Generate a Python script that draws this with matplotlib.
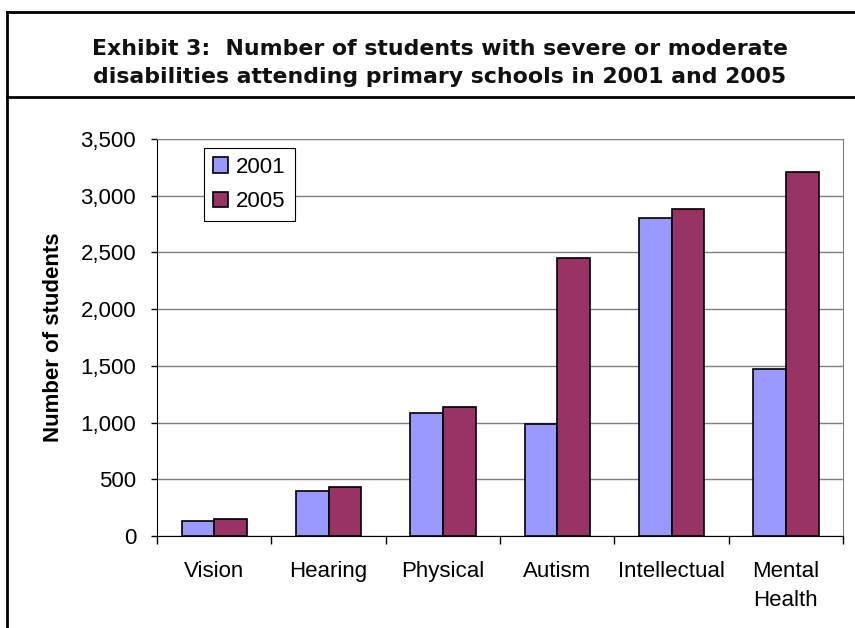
import numpy as np
import matplotlib
matplotlib.use("Agg")
from matplotlib import pyplot as plt
from matplotlib.lines import Line2D
from matplotlib.ticker import FuncFormatter, MultipleLocator

categories = ["Vision", "Hearing", "Physical", "Autism", "Intellectual", "Mental\nHealth"]
students_2001 = [135, 400, 1085, 985, 2800, 1475]
students_2005 = [150, 430, 1140, 2455, 2885, 3205]
series_labels = ["2001", "2005"]
title = ("Exhibit 3:  Number of students with severe or moderate\n"
         "disabilities attending primary schools in 2001 and 2005")

plt.rcParams["font.family"] = ["Liberation Sans", "DejaVu Sans"]

fig = plt.figure(figsize=(8.55, 6.28), dpi=100)
ax = fig.add_axes([157 / 855, 1 - 536 / 628, (843 - 157) / 855, (536 - 139) / 628])

x = np.arange(len(categories))
bw = 1 / 3.5  # Excel gap width 150%
ax.bar(x - bw / 2, students_2001, bw, color="#9999FF", edgecolor="black",
       linewidth=1.2, label=series_labels[0], zorder=3)
ax.bar(x + bw / 2, students_2005, bw, color="#993366", edgecolor="black",
       linewidth=1.2, label=series_labels[1], zorder=3)

ax.set_xlim(-0.5, len(categories) - 0.5)
ax.set_ylim(0, 3500)
ax.yaxis.set_major_locator(MultipleLocator(500))
ax.yaxis.set_major_formatter(FuncFormatter(lambda v, _: f"{v:,.0f}"))
ax.grid(axis="y", color="#808080", linewidth=1, zorder=0)

ax.set_xticks(x)
ax.set_xticklabels(categories, fontsize=16, linespacing=1.5, va="top")
ax.set_xticks(np.arange(len(categories) + 1) - 0.5, minor=True)
ax.tick_params(axis="x", which="major", length=0, pad=18)
ax.tick_params(axis="x", which="minor", length=6, width=1, direction="out")
ax.tick_params(axis="y", length=4, width=1, direction="out", pad=11, labelsize=16)

for side in ("top", "right"):
    ax.spines[side].set_color("#808080")
for side in ("left", "bottom"):
    ax.spines[side].set_color("black")

ax.set_ylabel("Number of students", fontsize=16, fontweight="bold", labelpad=12)

leg = ax.legend(loc="upper left", bbox_to_anchor=(0.0685, 0.977), borderaxespad=0,
                fontsize=16, fancybox=False, edgecolor="black", framealpha=1,
                handlelength=0.7, handleheight=0.7, handletextpad=0.35,
                borderpad=0.4, labelspacing=0.6)
leg.get_frame().set_linewidth(0.8)

# title box
fig.text(440 / 855, 1 - 63 / 628, title, ha="center", va="center",
         fontsize=15.8, fontweight="bold", family="DejaVu Sans",
         linespacing=1.55, color="#111111")
for y in (12, 97):
    fig.add_artist(Line2D([7 / 855, 1], [1 - y / 628, 1 - y / 628],
                          color="black", linewidth=2))
fig.add_artist(Line2D([7 / 855, 7 / 855], [0, 1 - 12 / 628],
                      color="black", linewidth=2))

fig.savefig("out.png", dpi=100)
